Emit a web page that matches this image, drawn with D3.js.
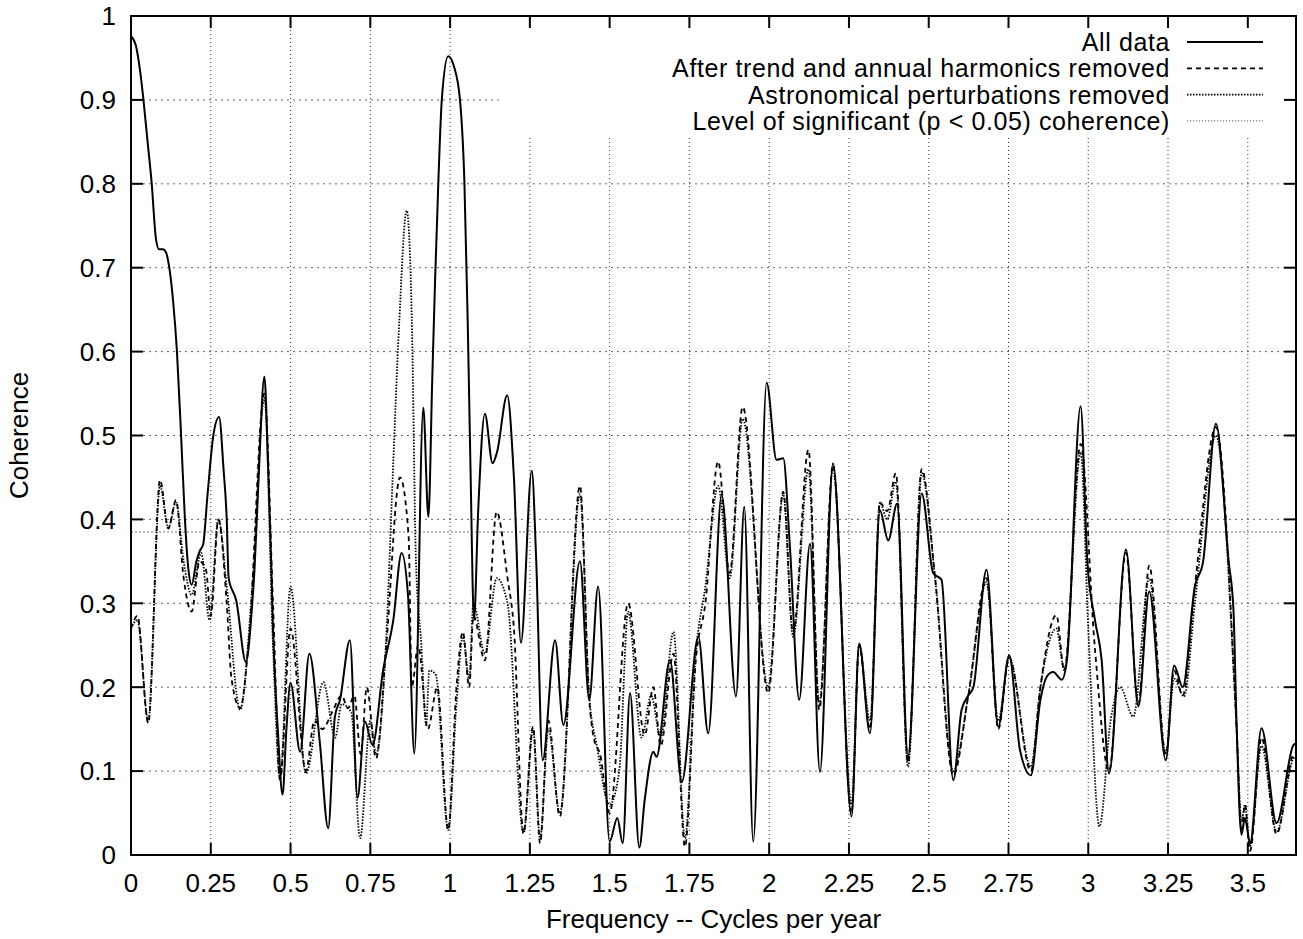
<!DOCTYPE html>
<html>
<head>
<meta charset="utf-8">
<script src="https://cdn.jsdelivr.net/npm/d3@7"></script>
<style>
  body { margin: 0; background: #fff; }
  text { font-family: "Liberation Sans", Arial, Helvetica, sans-serif; }
</style>
</head>
<body>
<div id="container"></div>
<script>
/* DATA */
const freqAll = [0, 0.015, 0.03, 0.039, 0.052, 0.065, 0.078, 0.088, 0.1, 0.11, 0.12, 0.132, 0.144, 0.157, 0.169, 0.18, 0.19, 0.205, 0.215, 0.226, 0.24, 0.258, 0.276, 0.29, 0.3, 0.306, 0.33, 0.36, 0.38, 0.387, 0.4, 0.418, 0.43, 0.44, 0.445, 0.46, 0.475, 0.487, 0.5, 0.53, 0.559, 0.592, 0.618, 0.639, 0.655, 0.686, 0.71, 0.733, 0.757, 0.79, 0.822, 0.848, 0.868, 0.888, 0.916, 0.932, 0.944, 0.953, 0.963, 0.974, 0.994, 1.012, 1.031, 1.045, 1.055, 1.064, 1.075, 1.088, 1.109, 1.133, 1.147, 1.179, 1.2, 1.222, 1.256, 1.27, 1.29, 1.329, 1.355, 1.407, 1.436, 1.464, 1.5, 1.524, 1.541, 1.564, 1.593, 1.61, 1.637, 1.647, 1.689, 1.726, 1.778, 1.809, 1.851, 1.896, 1.922, 1.95, 1.992, 2.023, 2.044, 2.065, 2.094, 2.128, 2.159, 2.2, 2.258, 2.282, 2.316, 2.347, 2.373, 2.401, 2.435, 2.478, 2.514, 2.54, 2.577, 2.603, 2.624, 2.64, 2.681, 2.718, 2.752, 2.786, 2.82, 2.85, 2.87, 2.89, 2.917, 2.933, 2.976, 2.997, 3.021, 3.042, 3.065, 3.118, 3.157, 3.191, 3.243, 3.269, 3.296, 3.334, 3.36, 3.4, 3.44, 3.455, 3.465, 3.48, 3.491, 3.507, 3.543, 3.59, 3.643, 3.651]
const cohAll = [0.976, 0.965, 0.93, 0.90, 0.85, 0.80, 0.735, 0.722, 0.722, 0.718, 0.70, 0.66, 0.60, 0.50, 0.40, 0.34, 0.322, 0.35, 0.362, 0.37, 0.43, 0.50, 0.522, 0.46, 0.40, 0.33, 0.303, 0.23, 0.30, 0.34, 0.45, 0.57, 0.46, 0.34, 0.27, 0.15, 0.072, 0.15, 0.205, 0.123, 0.24, 0.133, 0.032, 0.165, 0.185, 0.256, 0.068, 0.159, 0.131, 0.22, 0.28, 0.36, 0.31, 0.121, 0.533, 0.403, 0.566, 0.685, 0.80, 0.90, 0.952, 0.94, 0.90, 0.80, 0.64, 0.46, 0.28, 0.41, 0.526, 0.467, 0.48, 0.548, 0.45, 0.253, 0.458, 0.35, 0.113, 0.256, 0.155, 0.35, 0.185, 0.32, 0.016, 0.044, 0.014, 0.193, 0.009, 0.066, 0.123, 0.117, 0.232, 0.087, 0.26, 0.145, 0.429, 0.189, 0.415, 0.016, 0.563, 0.471, 0.473, 0.367, 0.185, 0.371, 0.099, 0.467, 0.046, 0.252, 0.145, 0.411, 0.375, 0.419, 0.117, 0.431, 0.336, 0.328, 0.089, 0.173, 0.19, 0.2, 0.34, 0.153, 0.238, 0.125, 0.095, 0.185, 0.2125, 0.218, 0.209, 0.232, 0.535, 0.35, 0.28, 0.232, 0.097, 0.364, 0.177, 0.314, 0.113, 0.226, 0.2, 0.32, 0.35, 0.514, 0.35, 0.292, 0.153, 0.024, 0.044, 0.014, 0.151, 0.038, 0.131, 0.133]

const freqTrend = [0, 0.02, 0.054, 0.091, 0.117, 0.141, 0.165, 0.19, 0.215, 0.235, 0.25, 0.274, 0.3, 0.315, 0.342, 0.37, 0.418, 0.445, 0.467, 0.5, 0.548, 0.575, 0.6, 0.63, 0.66, 0.68, 0.7, 0.72, 0.739, 0.768, 0.8, 0.843, 0.87, 0.88, 0.9, 0.93, 0.96, 0.994, 1.02, 1.04, 1.06, 1.073, 1.109, 1.146, 1.18, 1.2, 1.23, 1.26, 1.282, 1.308, 1.344, 1.407, 1.436, 1.45, 1.47, 1.5, 1.558, 1.61, 1.637, 1.66, 1.7, 1.736, 1.77, 1.8, 1.84, 1.876, 1.917, 1.997, 2.044, 2.075, 2.123, 2.157, 2.2, 2.258, 2.282, 2.316, 2.347, 2.37, 2.397, 2.435, 2.478, 2.52, 2.577, 2.624, 2.681, 2.718, 2.752, 2.82, 2.85, 2.9, 2.925, 2.976, 3.02, 3.065, 3.118, 3.157, 3.191, 3.243, 3.269, 3.296, 3.334, 3.4, 3.465, 3.48, 3.491, 3.507, 3.543, 3.59, 3.643, 3.651]
const cohTrend = [0.27, 0.285, 0.157, 0.447, 0.389, 0.423, 0.33, 0.29, 0.35, 0.34, 0.285, 0.40, 0.30, 0.21, 0.175, 0.26, 0.55, 0.30, 0.09, 0.27, 0.10, 0.16, 0.15, 0.17, 0.19, 0.175, 0.19, 0.12, 0.20, 0.115, 0.25, 0.45, 0.38, 0.20, 0.25, 0.15, 0.20, 0.03, 0.20, 0.266, 0.20, 0.285, 0.232, 0.409, 0.33, 0.27, 0.026, 0.153, 0.014, 0.16, 0.046, 0.44, 0.185, 0.14, 0.12, 0.05, 0.30, 0.143, 0.20, 0.13, 0.24, 0.01, 0.232, 0.30, 0.469, 0.336, 0.534, 0.193, 0.433, 0.264, 0.483, 0.173, 0.465, 0.05, 0.25, 0.15, 0.42, 0.41, 0.455, 0.11, 0.46, 0.33, 0.095, 0.19, 0.33, 0.15, 0.235, 0.10, 0.20, 0.286, 0.22, 0.49, 0.25, 0.10, 0.36, 0.18, 0.345, 0.12, 0.22, 0.19, 0.32, 0.51, 0.15, 0.03, 0.06, 0.005, 0.14, 0.025, 0.12, 0.122]

const freqAstro = [0, 0.02, 0.054, 0.091, 0.117, 0.141, 0.165, 0.19, 0.22, 0.246, 0.274, 0.3, 0.342, 0.38, 0.418, 0.445, 0.467, 0.5, 0.548, 0.603, 0.64, 0.66, 0.69, 0.718, 0.75, 0.768, 0.8, 0.82, 0.84, 0.864, 0.88, 0.893, 0.91, 0.925, 0.935, 0.955, 0.994, 1.02, 1.04, 1.06, 1.073, 1.109, 1.146, 1.18, 1.23, 1.26, 1.282, 1.308, 1.344, 1.407, 1.436, 1.46, 1.5, 1.53, 1.558, 1.6, 1.63, 1.66, 1.7, 1.736, 1.77, 1.8, 1.84, 1.876, 1.917, 1.997, 2.044, 2.075, 2.123, 2.157, 2.2, 2.258, 2.282, 2.316, 2.347, 2.37, 2.397, 2.435, 2.478, 2.52, 2.577, 2.624, 2.681, 2.718, 2.752, 2.82, 2.85, 2.9, 2.925, 2.976, 3.0, 3.035, 3.07, 3.1, 3.141, 3.191, 3.243, 3.269, 3.3, 3.334, 3.4, 3.465, 3.48, 3.491, 3.507, 3.543, 3.59, 3.643, 3.651]
const cohAstro = [0.27, 0.28, 0.16, 0.44, 0.39, 0.42, 0.35, 0.31, 0.36, 0.28, 0.40, 0.32, 0.173, 0.32, 0.545, 0.25, 0.09, 0.32, 0.097, 0.206, 0.14, 0.18, 0.17, 0.02, 0.16, 0.12, 0.26, 0.45, 0.63, 0.768, 0.64, 0.35, 0.25, 0.155, 0.22, 0.215, 0.03, 0.18, 0.26, 0.21, 0.30, 0.24, 0.33, 0.30, 0.026, 0.15, 0.02, 0.15, 0.05, 0.43, 0.19, 0.13, 0.06, 0.10, 0.29, 0.14, 0.19, 0.14, 0.266, 0.02, 0.24, 0.32, 0.44, 0.33, 0.52, 0.20, 0.43, 0.26, 0.46, 0.18, 0.46, 0.06, 0.25, 0.16, 0.42, 0.40, 0.445, 0.105, 0.455, 0.33, 0.10, 0.19, 0.325, 0.16, 0.235, 0.105, 0.20, 0.27, 0.22, 0.48, 0.27, 0.034, 0.16, 0.20, 0.165, 0.33, 0.12, 0.21, 0.189, 0.30, 0.50, 0.15, 0.04, 0.06, 0.01, 0.13, 0.028, 0.115, 0.118]

const sigLevel = 0.385
const xTicks = [0, 0.25, 0.5, 0.75, 1, 1.25, 1.5, 1.75, 2, 2.25, 2.5, 2.75, 3, 3.25, 3.5]
const yTicks = [0, 0.1, 0.2, 0.3, 0.4, 0.5, 0.6, 0.7, 0.8, 0.9, 1]
const legendLabels = ["All data", "After trend and annual harmonics removed",
  "Astronomical perturbations removed", "Level of significant (p < 0.05) coherence)"]

/* LAYOUT */
const W = 1303, H = 939
const plot = { left: 131, right: 1296, top: 16, bottom: 855 }
const fontSize = 26

const svg = d3.select("#container").append("svg")
  .attr("width", W).attr("height", H)

const x = d3.scaleLinear().domain([0, 3.651]).range([plot.left, plot.right])
const y = d3.scaleLinear().domain([0, 1]).range([plot.bottom, plot.top])

// grid
svg.append("g").selectAll("line").data(xTicks.slice(1)).join("line")
  .attr("x1", d => x(d)).attr("x2", d => x(d))
  .attr("y1", plot.bottom).attr("y2", plot.top)
  .attr("stroke", "#333").attr("stroke-width", 1).attr("stroke-dasharray", "1,3")
svg.append("g").selectAll("line").data(yTicks.slice(1, -1)).join("line")
  .attr("x1", plot.left).attr("x2", plot.right)
  .attr("y1", d => y(d)).attr("y2", d => y(d))
  .attr("stroke", "#666").attr("stroke-width", 1).attr("stroke-dasharray", "2,4")

// key box hides grid behind it
svg.append("rect").attr("x", 503).attr("y", plot.top + 1)
  .attr("width", plot.right - 503 - 1).attr("height", 136 - plot.top)
  .attr("fill", "#fff")

// significance level
svg.append("line")
  .attr("x1", plot.left).attr("x2", plot.right)
  .attr("y1", y(sigLevel)).attr("y2", y(sigLevel))
  .attr("stroke", "#777").attr("stroke-width", 1.2).attr("stroke-dasharray", "2,2")

const line = d3.line().x(d => x(d[0])).y(d => y(d[1])).curve(d3.curveMonotoneX)

const series = [
  { pts: d3.zip(freqAstro, cohAstro), dash: "1.5,1.5", w: 1.8 },
  { pts: d3.zip(freqTrend, cohTrend), dash: "5,4", w: 1.8 },
  { pts: d3.zip(freqAll, cohAll), dash: null, w: 2 }
]

series.forEach(s => {
  svg.append("path").datum(s.pts)
    .attr("fill", "none")
    .attr("stroke", "#000")
    .attr("stroke-width", s.w)
    .attr("stroke-dasharray", s.dash)
    .attr("stroke-linejoin", "round")
    .attr("d", line)
})

// frame
svg.append("rect").attr("x", plot.left).attr("y", plot.top)
  .attr("width", plot.right - plot.left).attr("height", plot.bottom - plot.top)
  .attr("fill", "none").attr("stroke", "#000").attr("stroke-width", 2)

// ticks (inward, mirrored)
const tl = 12
const tg = svg.append("g").attr("stroke", "#000").attr("stroke-width", 2)
xTicks.forEach(d => {
  tg.append("line").attr("x1", x(d)).attr("x2", x(d)).attr("y1", plot.bottom).attr("y2", plot.bottom - tl)
  tg.append("line").attr("x1", x(d)).attr("x2", x(d)).attr("y1", plot.top).attr("y2", plot.top + tl)
})
yTicks.forEach(d => {
  tg.append("line").attr("x1", plot.left).attr("x2", plot.left + tl).attr("y1", y(d)).attr("y2", y(d))
  tg.append("line").attr("x1", plot.right).attr("x2", plot.right - tl).attr("y1", y(d)).attr("y2", y(d))
})

// tick labels
svg.append("g").selectAll("text").data(xTicks).join("text")
  .attr("x", d => x(d)).attr("y", 892)
  .attr("text-anchor", "middle").style("font-size", fontSize + "px")
  .text(d => d)
svg.append("g").selectAll("text").data(yTicks).join("text")
  .attr("x", 116).attr("y", d => y(d)).attr("dy", "0.36em")
  .attr("text-anchor", "end").style("font-size", fontSize + "px")
  .text(d => d)

// axis titles
svg.append("text")
  .attr("x", (plot.left + plot.right) / 2).attr("y", 928)
  .attr("text-anchor", "middle").style("font-size", fontSize + "px")
  .text("Frequency -- Cycles per year")
svg.append("text")
  .attr("transform", "translate(28," + ((plot.top + plot.bottom) / 2) + ") rotate(-90)")
  .attr("text-anchor", "middle").style("font-size", fontSize + "px")
  .text("Coherence")

// key
const keyStyles = [
  { dash: null, w: 2, c: "#000" },
  { dash: "5,4", w: 1.8, c: "#000" },
  { dash: "1.5,1.5", w: 1.8, c: "#000" },
  { dash: "1.2,1.8", w: 1.2, c: "#777" }
]
legendLabels.forEach((lab, i) => {
  const yy = 42 + i * 26.3
  svg.append("text").attr("x", 1170).attr("y", yy).attr("dy", "0.36em")
    .attr("text-anchor", "end").style("font-size", "25px")
    .style("letter-spacing", "0.6px").text(lab)
  svg.append("line").attr("x1", 1187).attr("x2", 1263).attr("y1", yy).attr("y2", yy)
    .attr("stroke", keyStyles[i].c).attr("stroke-width", keyStyles[i].w)
    .attr("stroke-dasharray", keyStyles[i].dash)
})
</script>
</body>
</html>
